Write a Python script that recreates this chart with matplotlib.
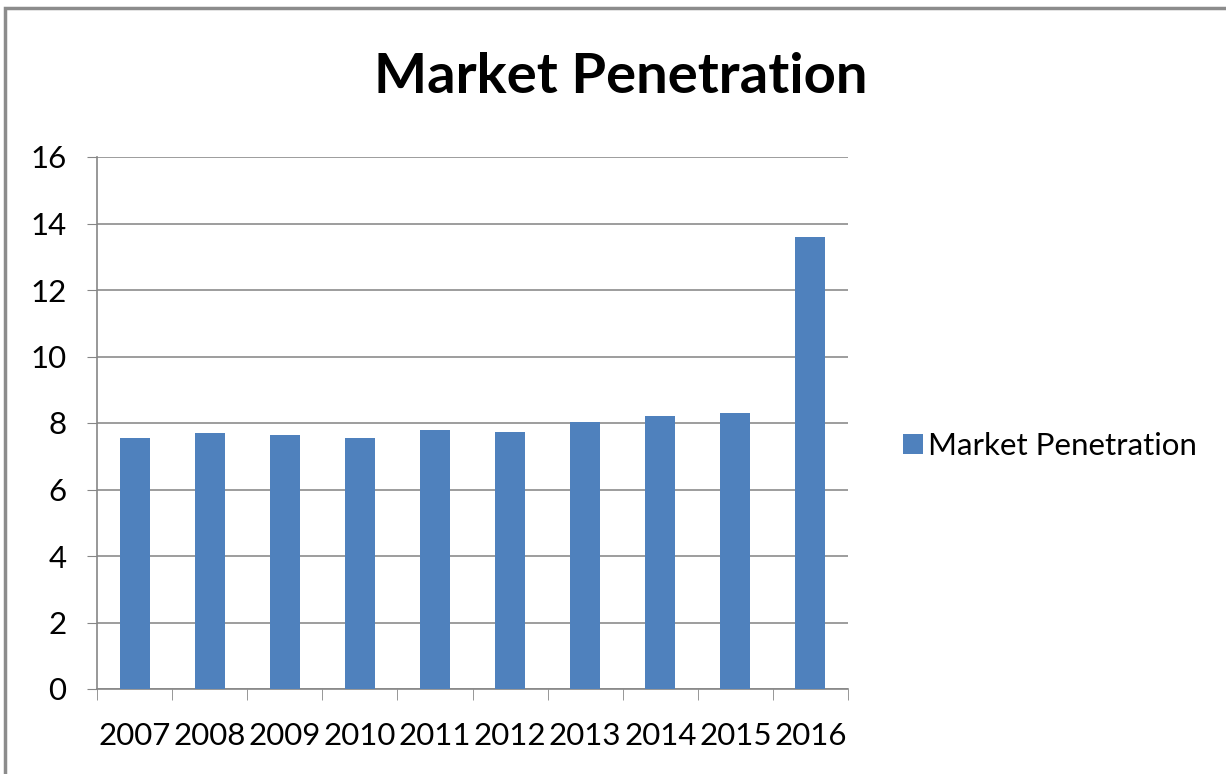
import matplotlib.pyplot as plt
from matplotlib.patches import Rectangle

years = ["2007", "2008", "2009", "2010", "2011", "2012", "2013", "2014", "2015", "2016"]
penetration = [7.54, 7.69, 7.64, 7.54, 7.79, 7.74, 8.04, 8.21, 8.31, 13.58]

plt.rcParams['font.family'] = ['Lato', 'DejaVu Sans']

fig = plt.figure(figsize=(12.26, 7.74), dpi=100)
# outer chart border
fig.patches.append(Rectangle((0.004, -0.01), 1.2, 1.0, transform=fig.transFigure,
                             fill=False, edgecolor='#8c8c8c', linewidth=2.5))

ax = fig.add_axes([97 / 1226, 1 - 689 / 774, (848 - 97) / 1226, (689 - 157) / 774])
x = list(range(len(years)))
ax.bar(x, penetration, width=0.4, color='#4F81BD', label='Market Penetration', zorder=3)

ax.set_xlim(-0.5, len(years) - 0.5)
ax.set_ylim(0, 16)
ax.set_yticks(range(0, 17, 2))
ax.set_xticks(x)
ax.set_xticklabels(years)
ax.set_xticks([i + 0.5 for i in range(-1, len(years))], minor=True)
ax.tick_params(axis='x', which='major', length=0, pad=24, labelsize=22.5)
ax.tick_params(axis='x', which='minor', length=8, color='#868686', direction='out')
ax.tick_params(axis='y', length=7, color='#868686', direction='out', pad=15, labelsize=22.5)
ax.grid(axis='y', color='#8c8c8c', linewidth=1.2, zorder=0)

for side in ['top', 'right']:
    ax.spines[side].set_visible(False)
for side in ['left', 'bottom']:
    ax.spines[side].set_color('#868686')
    ax.spines[side].set_linewidth(1.2)

fig.text(0.506, 0.90, "Market Penetration", ha='center', va='center',
         fontsize=40.5, fontweight='bold')

fig.legend(loc='center left', bbox_to_anchor=(0.714, 0.424), frameon=False,
           fontsize=22.5, handlelength=0.62, handleheight=0.62, handletextpad=0.15)

fig.savefig("out.png", dpi=100)
